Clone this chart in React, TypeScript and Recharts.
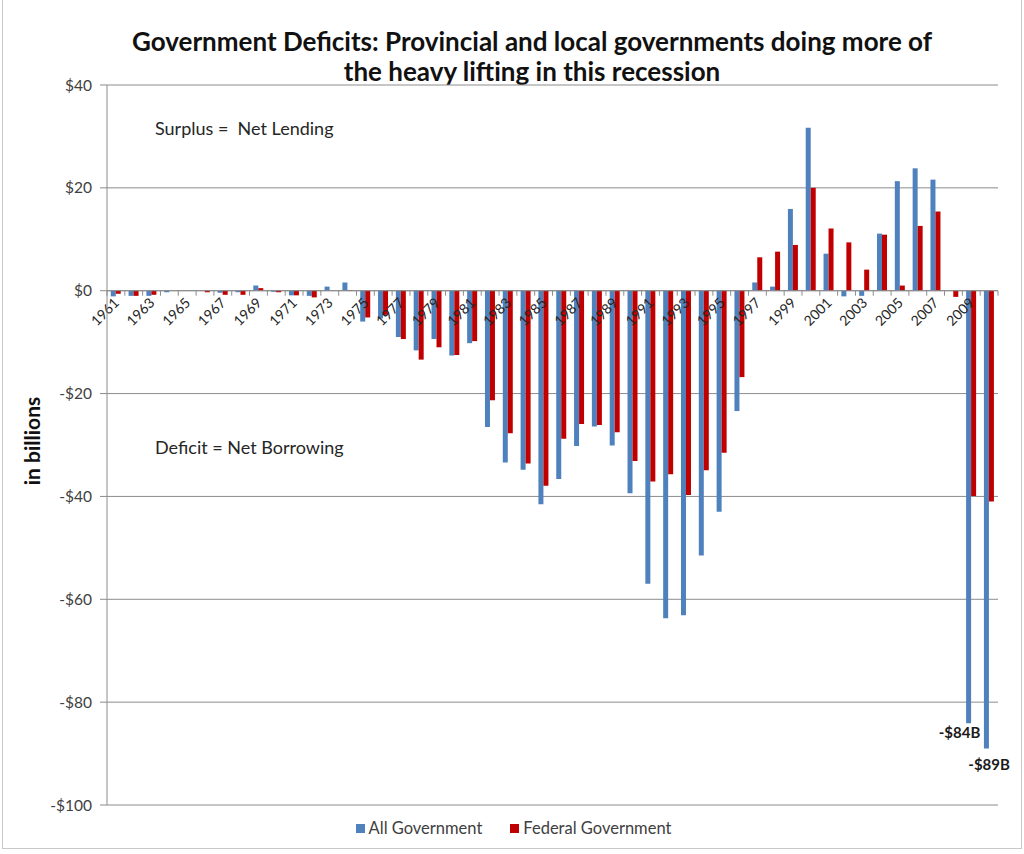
import React from "react";
import {
  BarChart,
  Bar,
  XAxis,
  YAxis,
  CartesianGrid,
  ReferenceLine,
  ReferenceDot,
  Legend,
  Label,
} from "recharts";

const years = [
  "1961", "1962", "1963", "1964", "1965", "1966", "1967", "1968", "1969", "1970",
  "1971", "1972", "1973", "1974", "1975", "1976", "1977", "1978", "1979", "1980",
  "1981", "1982", "1983", "1984", "1985", "1986", "1987", "1988", "1989", "1990",
  "1991", "1992", "1993", "1994", "1995", "1996", "1997", "1998", "1999", "2000",
  "2001", "2002", "2003", "2004", "2005", "2006", "2007", "2008", "2009", "2010",
];

// net lending (+) / borrowing (-), $ billions
const allGovernment = [
  -1.1, -1.0, -1.0, -0.3, 0, 0, -0.4, -0.3, 1.0, -0.2,
  -0.9, -1.0, 0.8, 1.6, -6.0, -5.4, -9.0, -11.6, -9.4, -12.6,
  -10.2, -26.5, -33.4, -34.8, -41.5, -36.6, -30.2, -26.4, -30.1, -39.4,
  -57.0, -63.7, -63.1, -51.5, -43.0, -23.4, 1.6, 0.8, 15.9, 31.7,
  7.2, -1.1, -1.0, 11.1, 21.3, 23.8, 21.6, 0, -84.1, -89.0,
];

const federalGovernment = [
  -0.6, -1.0, -0.8, 0, 0, -0.3, -0.8, -0.8, 0.5, -0.3,
  -0.9, -1.3, 0, 0.1, -5.2, -4.7, -9.4, -13.4, -11.0, -12.5,
  -9.8, -21.3, -27.7, -33.6, -37.9, -28.8, -25.9, -26.1, -27.5, -33.1,
  -37.1, -35.7, -39.7, -34.9, -31.5, -16.8, 6.5, 7.6, 8.9, 20.0,
  12.1, 9.4, 4.1, 10.9, 1.0, 12.6, 15.4, -1.2, -39.9, -41.0,
];

const yTicks = [-100, -80, -60, -40, -20, 0, 20, 40];
const noteYears = ["2009", "2010"];
const noteTexts = ["-$84B", "-$89B"];

const data = years.map((year, i) => ({
  year,
  all: allGovernment[i],
  fed: federalGovernment[i],
}));

const FONT = "Lato, 'Open Sans', sans-serif";
const GRID = "#8c8c8c";
const BLUE = "#4F81BD";
const RED = "#C00000";

const money = (v: number) => (v < 0 ? `-$${Math.abs(v)}` : `$${v}`);

// year labels + small tick marks along the zero line
function YearAxis(props: any) {
  const vb = props.viewBox;
  if (!vb) return null;
  const n = years.length;
  const step = vb.width / n;
  const y0 = vb.y;
  return (
    <g>
      {Array.from({ length: n + 1 }, (_, i) => (
        <line
          key={`t${i}`}
          x1={vb.x + i * step}
          x2={vb.x + i * step}
          y1={y0}
          y2={y0 + 5}
          stroke={GRID}
        />
      ))}
      {years.map((yr, i) => {
        if (i % 2 !== 0) return null;
        const tx = vb.x + (i + 0.5) * step + 4;
        const ty = y0 + 13;
        return (
          <text
            key={yr}
            x={tx}
            y={ty}
            textAnchor="end"
            fontFamily={FONT}
            fontSize={14}
            fill="#262626"
            transform={`rotate(-45 ${tx} ${ty})`}
          >
            {yr}
          </text>
        );
      })}
    </g>
  );
}

// first note sits to the left so it clears the next bar
function noteLabel(k: number) {
  return (p: any) => {
    const vb = p.viewBox || {};
    const cx = vb.cx != null ? vb.cx : vb.x + (vb.width || 0) / 2;
    const cy = vb.cy != null ? vb.cy : vb.y + (vb.height || 0) / 2;
    if (cx == null || isNaN(cx)) return null;
    return (
      <text
        x={k === 0 ? cx + 9 : cx}
        y={cy + (k === 0 ? 15 : 22)}
        textAnchor={k === 0 ? "end" : "middle"}
        fontFamily={FONT}
        fontWeight={700}
        fontSize={15}
        fill="#1a1a1a"
      >
        {noteTexts[k]}
      </text>
    );
  };
}

function LegendBox() {
  const items = [
    { name: "All Government", color: BLUE },
    { name: "Federal Government", color: RED },
  ];
  return (
    <div
      style={{
        height: 46,
        display: "flex",
        alignItems: "center",
        justifyContent: "center",
        gap: 28,
        fontFamily: FONT,
        fontSize: 16.5,
        color: "#404040",
        paddingRight: 8,
      }}
    >
      {items.map((it) => (
        <span key={it.name} style={{ display: "flex", alignItems: "center", gap: 4 }}>
          <span style={{ width: 9, height: 9, background: it.color, display: "inline-block" }} />
          {it.name}
        </span>
      ))}
    </div>
  );
}

export default function App() {
  return (
    <div
      style={{
        position: "absolute",
        left: 0,
        top: 0,
        width: 1024,
        height: 854,
        background: "#fff",
        fontFamily: FONT,
      }}
    >
      <div
        style={{
          position: "absolute",
          left: 2,
          top: 0,
          width: 1018,
          height: 848,
          borderLeft: "1px solid #c8c8c8",
          borderRight: "1px solid #c8c8c8",
          borderBottom: "1px solid #c8c8c8",
        }}
      />
      <div
        style={{
          position: "absolute",
          left: 80,
          top: 26,
          width: 904,
          textAlign: "center",
          fontSize: 26,
          fontWeight: 700,
          lineHeight: "30px",
          color: "#111",
        }}
      >
        Government Deficits: Provincial and local governments doing more of
        <br />
        the heavy lifting in this recession
      </div>
      <div style={{ position: "absolute", left: 155, top: 117, fontSize: 18, color: "#262626" }}>
        Surplus =&nbsp; Net Lending
      </div>
      <div style={{ position: "absolute", left: 155, top: 436, fontSize: 18, color: "#262626" }}>
        Deficit = Net Borrowing
      </div>
      <BarChart
        width={1024}
        height={854}
        data={data}
        margin={{ top: 85, right: 26, bottom: 3, left: 37 }}
        barCategoryGap="21%"
        barGap={0}
      >
        <CartesianGrid vertical={false} stroke={GRID} />
        <XAxis dataKey="year" hide />
        <YAxis
          width={70}
          domain={[-100, 40]}
          ticks={yTicks}
          interval={0}
          tickFormatter={money}
          axisLine={{ stroke: GRID }}
          tickLine={{ stroke: GRID }}
          tickSize={7}
          tickMargin={8}
          tick={{ fontSize: 15.5, fill: "#404040", fontFamily: FONT }}
        >
          <Label
            content={(p: any) => {
              const vb = p.viewBox;
              const cx = 31;
              const cy = vb.y + vb.height / 2 - 4;
              return (
                <text
                  x={cx}
                  y={cy}
                  textAnchor="middle"
                  dominantBaseline="central"
                  transform={`rotate(-90 ${cx} ${cy})`}
                  fontFamily={FONT}
                  fontWeight={700}
                  fontSize={21}
                  fill="#111"
                >
                  in billions
                </text>
              );
            }}
          />
        </YAxis>
        <Legend verticalAlign="bottom" content={() => <LegendBox />} />
        <Bar dataKey="all" name="All Government" fill={BLUE} isAnimationActive={false} />
        <Bar dataKey="fed" name="Federal Government" fill={RED} isAnimationActive={false} />
        <ReferenceLine y={0} stroke={GRID} label={(p: any) => <YearAxis {...p} />} />
        {noteYears.map((yr, k) => (
          <ReferenceDot
            key={yr}
            x={yr}
            y={allGovernment[years.indexOf(yr)]}
            r={0}
            fill="none"
            stroke="none"
            label={noteLabel(k)}
          />
        ))}
      </BarChart>
    </div>
  );
}
